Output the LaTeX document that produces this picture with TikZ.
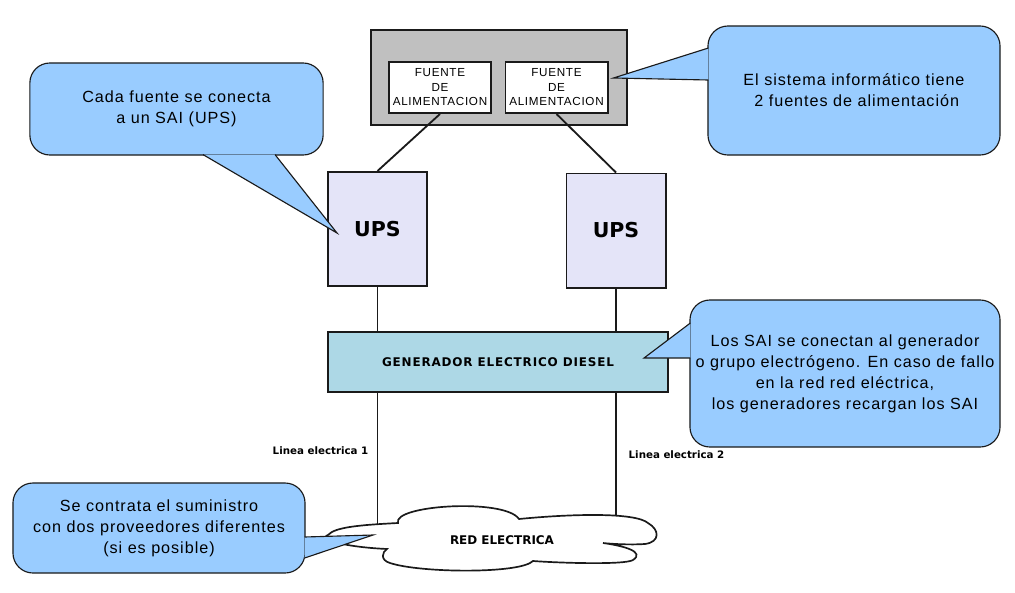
\documentclass[tikz,border=0pt]{standalone}
\usepackage{fontspec}
\setmainfont{Liberation Sans}
\newfontfamily\dejavu{DejaVu Sans}
\newfontfamily\dejawide[LetterSpace=7]{DejaVu Sans}
\newfontfamily\callfont[LetterSpace=6]{Liberation Sans}
\usetikzlibrary{backgrounds}
\definecolor{callblue}{HTML}{99CCFF}
\definecolor{upsfill}{HTML}{E4E4F8}
\definecolor{genfill}{HTML}{ADD8E6}
\definecolor{hostgray}{HTML}{C0C0C0}
\definecolor{edge}{HTML}{1A1A1A}

\begin{document}
\begin{tikzpicture}[x=0.025cm,y=-0.025cm,
  box/.style={draw=edge,line width=1.4pt,rectangle},
  wire/.style={draw=edge,line width=1.3pt},
  note/.style={draw=edge,line width=0.8pt,fill=callblue,rounded corners=0.5cm,align=center,inner sep=2pt,font=\callfont\fontsize{11.5}{15}\selectfont},
  notetip/.style={draw=edge,line width=0.8pt,fill=callblue,line join=miter},
  srcbox/.style={box,fill=white,minimum width=2.55cm,minimum height=1.275cm,inner sep=1pt,align=center,font=\callfont\fontsize{8.3}{10.3}\selectfont},
  upsbox/.style={box,fill=upsfill,minimum width=2.475cm,minimum height=2.85cm,font=\dejavu\bfseries\fontsize{14.6}{16}\selectfont},
  cloudline/.style={draw=edge,line width=1.2pt,fill=white},
  linelabel/.style={inner sep=1pt,font=\dejavu\bfseries\fontsize{7.3}{9}\selectfont}]
\useasboundingbox (0,0) rectangle (1015,593);

% Computer with two power supplies
\node[box,fill=hostgray,minimum width=6.4cm,minimum height=2.375cm] (host) at (499,77.5) {};
\node[srcbox] (src1) at (440,87.5) {FUENTE\\DE\\ALIMENTACION};
\node[srcbox] (src2) at (556.5,87.5) {FUENTE\\DE\\ALIMENTACION};

% UPS
\node[upsbox] (ups1) at (377.5,229) {UPS};
\node[upsbox] (ups2) at (616,230.5) {UPS};

% Generator
\node[box,fill=genfill,minimum width=8.5cm,minimum height=1.5cm,font=\dejawide\bfseries\fontsize{8.5}{10}\selectfont] (gen) at (498,362) {GENERADOR ELECTRICO DIESEL\hspace{11pt}};

% Grid (cloud)
\draw[cloudline] (328,535) .. controls (335,527) and (360,525) .. (398,523)
  .. controls (392,505) and (505,498) .. (519,519)
  .. controls (570,514) and (635,512) .. (648,523)
  .. controls (660,530) and (660,542) .. (645,544)
  .. controls (630,545) and (612,544) .. (603,543)
  .. controls (625,546) and (645,552) .. (633,560)
  .. controls (625,565) and (560,563) .. (533,561)
  .. controls (520,574) and (420,573) .. (390,563)
  .. controls (380,560) and (382,552) .. (387,549)
  .. controls (365,548) and (340,545) .. (330,540)
  .. controls (325,537) and (325,536) .. cycle;
\node[inner sep=1pt,font=\dejavu\bfseries\fontsize{8.5}{10}\selectfont] (red) at (502,540) {RED ELECTRICA};
\coordinate (gridin) at (373,535);

% Wires
\draw[wire] (src1.south) -- (ups1.north);
\draw[wire] (src2.south) -- (ups2.north);
\draw[wire] (ups1.south) -- (ups1.south |- gen.north);
\draw[wire] (ups2.south) -- (ups2.south |- gen.north);
\begin{scope}[on background layer]
\draw[wire] (ups1.south |- gen.south) -- (ups1.south |- red.center);
\draw[wire] (ups2.south |- gen.south) -- (ups2.south |- red.center);
\end{scope}
\node[linelabel,anchor=east] (lin1) at (370,451) {Linea electrica 1};
\node[linelabel,anchor=west] (lin2) at (627,455) {Linea electrica 2};

% Notes
\node[note,minimum width=7.33cm,minimum height=2.3cm] (n1) at (176.5,109) {Cada fuente se conecta\\a un SAI (UPS)};
\draw[notetip] ([shift={(26.5,-1)}]n1.south) -- ([shift={(10,4)}]ups1.west) -- ([shift={(98.5,-1)}]n1.south);

\node[note,minimum width=7.3cm,minimum height=3.225cm] (n2) at (854,90.5) {El sistema informático tiene\\\ 2 fuentes de alimentación};
\draw[notetip] ([shift={(1,-42.5)}]n2.west) -- ([shift={(5,-9.5)}]src2.east) -- ([shift={(1,-10.5)}]n2.west);

\node[note,minimum width=7.75cm,minimum height=3.675cm] (n3) at (845,373.5) {Los SAI se conectan al generador\\o grupo electrógeno. En caso de fallo\\en la red red eléctrica,\\los generadores recargan los SAI};
\draw[notetip] ([shift={(1,-50.5)}]n3.west) -- ([shift={(-25,-4)}]gen.east) -- ([shift={(1,-15.5)}]n3.west);

\node[note,minimum width=7.3cm,minimum height=2.25cm] (n4) at (159,528) {Se contrata el suministro\\con dos proveedores diferentes\\(si es posible)};
\draw[notetip] ([shift={(-1,9)}]n4.east) -- (gridin) -- ([shift={(-1,30)}]n4.east);
\end{tikzpicture}
\end{document}
